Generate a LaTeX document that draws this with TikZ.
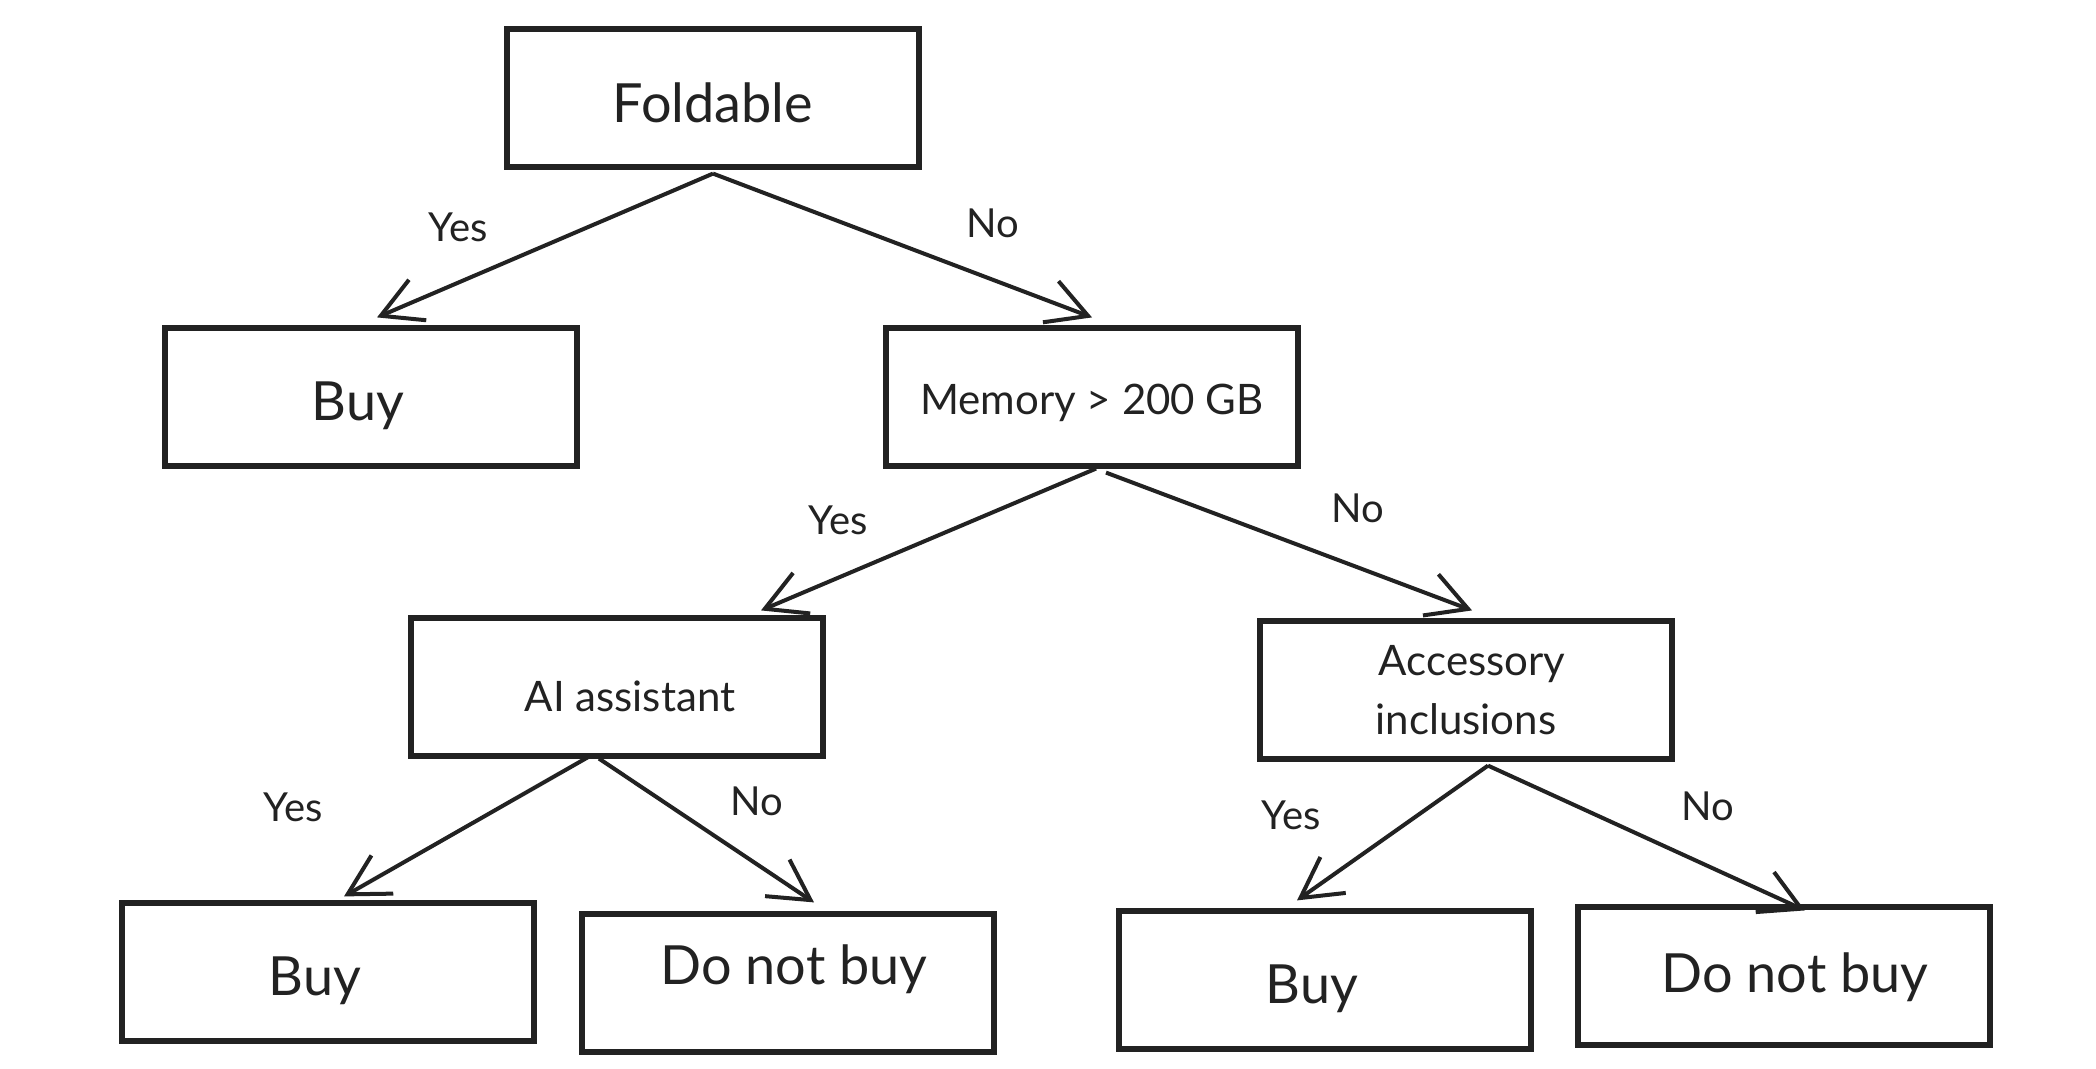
\documentclass[tikz,border=0pt]{standalone}
\usepackage{fontspec}
\setmainfont{Lato}
\usetikzlibrary{arrows.meta}
\definecolor{ink}{HTML}{222222}
\tikzset{
  box/.style={draw=ink, line width=2.6pt, minimum width=206pt, minimum height=69pt, inner sep=0pt, text=ink, align=center},
  flat/.style={text height=0pt, text depth=0pt},
  lbl/.style={text=ink, font=\fontsize{20}{24}\selectfont, inner sep=0pt},
  conn/.style={draw=ink, line width=2pt, -{Straight Barb[length=20pt,width=22pt,line width=2pt]}},
  big/.style={font=\fontsize{27}{32}\selectfont},
  mid/.style={font=\fontsize{21}{29.5}\selectfont}
}
\begin{document}
\begin{tikzpicture}[x=0.5pt,y=-0.5pt]
\useasboundingbox[fill=white] (0,0) rectangle (2096,1069);
% boxes
\node[box,flat,big] (fold) at (713,98) {\raisebox{-12.2pt}{Foldable}};
\node[box,flat,big] (buyA) at (371,397) {\raisebox{-11.7pt}{\hspace*{-13pt}Buy}};
\node[box,flat,mid] (mem) at (1092,397) {\raisebox{-8.9pt}{Memory > 200 GB}};
\node[box,flat,mid] (ai) at (617,687) {\raisebox{-12.3pt}{\hspace*{13pt}AI assistant}};
\node[box,mid] (acc) at (1466,690) {\hspace*{6pt}Accessory\\inclusions};
\node[box,flat,big] (buyB) at (328,972) {\raisebox{-11.7pt}{\hspace*{-13pt}Buy}};
\node[box,flat,big] (dnbA) at (788,983) {\raisebox{-0.7pt}{\hspace*{6pt}Do not buy}};
\node[box,flat,big] (buyC) at (1325,980) {\raisebox{-11.7pt}{\hspace*{-13pt}Buy}};
\node[box,flat,big] (dnbB) at (1784,976) {\raisebox{-8.4pt}{\hspace*{11pt}Do not buy}};
% connectors
\draw[conn] ([yshift=-2pt]fold.south) -- ([xshift=3pt,yshift=4pt]buyA.north);
\draw[conn] ([yshift=-2pt]fold.south) -- ([yshift=4pt]mem.north);
\draw[conn] ([xshift=2pt]mem.south) -- ([xshift=72pt,yshift=2.5pt]ai.north);
\draw[conn] ([xshift=7pt,yshift=-2pt]mem.south) -- ([xshift=3pt,yshift=4pt]acc.north);
\draw[conn] ([xshift=-14pt,yshift=1pt]ai.south) -- ([xshift=8pt,yshift=2pt]buyB.north);
\draw[conn] ([xshift=-9pt]ai.south) -- ([xshift=13pt,yshift=4.5pt]dnbA.north);
\draw[conn] ([xshift=11pt,yshift=-2pt]acc.south) -- ([xshift=-14pt,yshift=4pt]buyC.north);
\draw[conn] ([xshift=11pt,yshift=-2pt]acc.south) -- ([xshift=10.5pt,yshift=-3pt]dnbB.north);
% labels
\node[lbl] (yA) at (458,227) {Yes};
\node[lbl] (nA) at (993,223) {No};
\node[lbl] (yB) at (838,520) {Yes};
\node[lbl] (nB) at (1358,508) {No};
\node[lbl] (yC) at (293,807) {Yes};
\node[lbl] (nC) at (757,801) {No};
\node[lbl] (yD) at (1291,815) {Yes};
\node[lbl] (nD) at (1708,806) {No};
\end{tikzpicture}
\end{document}
